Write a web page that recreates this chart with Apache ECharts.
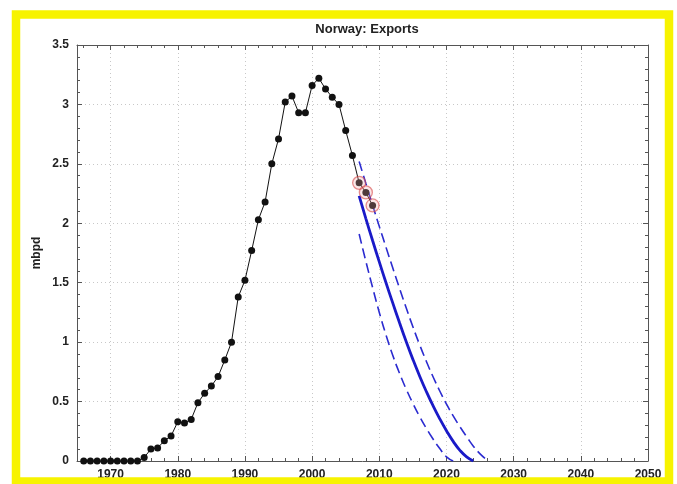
<!DOCTYPE html>
<html>
<head>
<meta charset="utf-8">
<script src="https://cdn.jsdelivr.net/npm/echarts@6/dist/echarts.min.js"></script>
<style>
  html, body { margin: 0; padding: 0; background: #fff; }
  #chart { width: 677px; height: 484px; }
</style>
</head>
<body>
<div id="chart"></div>
<script>
// Historical net exports (million barrels per day)
const histYears = [1966,1967,1968,1969,1970,1971,1972,1973,1974,1975,1976,1977,1978,1979,
  1980,1981,1982,1983,1984,1985,1986,1987,1988,1989,1990,1991,1992,1993,1994,1995,
  1996,1997,1998,1999,2000,2001,2002,2003,2004,2005,2006,2007,2008,2009];
const histValues = [0,0,0,0,0,0,0,0,0,0.03,0.10,0.11,0.17,0.21,
  0.33,0.32,0.35,0.49,0.57,0.63,0.71,0.85,1.00,1.38,1.52,1.77,2.03,2.18,2.50,2.71,
  3.02,3.07,2.93,2.93,3.16,3.22,3.13,3.06,3.00,2.78,2.57,2.34,2.26,2.15];

// Years used to fit the projection (highlighted)
const fitYears = [2007, 2008, 2009];

// Projection: central estimate and bounds
const projYears = [2007,2008,2009,2010,2011,2012,2013,2014,2015,2016,2017,2018,2019,2020,2021,2022,2023,2024];
const projMid = [2.23,2.04,1.855,1.675,1.50,1.33,1.165,1.005,0.855,0.715,0.585,0.465,0.355,0.255,0.165,0.09,0.035,0.0];

const upperYears = [2007,2008,2009,2010,2011,2012,2013,2014,2015,2016,2017,2018,2019,2020,2021,2022,2023,2024,2025,2026];
const projUpper = [2.52,2.335,2.153,1.974,1.798,1.625,1.455,1.289,1.129,0.979,0.839,0.709,0.589,0.479,0.379,0.289,0.205,0.125,0.06,0.01];

const lowerYears = [2007,2008,2009,2010,2011,2012,2013,2014,2015,2016,2017,2018,2019,2020,2021];
const projLower = [1.91,1.68,1.46,1.25,1.06,0.89,0.74,0.605,0.485,0.375,0.275,0.185,0.105,0.035,0.0];

const pairs = (xs, ys) => xs.map((x, i) => [x, ys[i]]);
const fitPoints = fitYears.map(y => [y, histValues[histYears.indexOf(y)]]);

const font = '"Liberation Sans", Arial, Helvetica, sans-serif';
const axisColor = '#555';

const chart = echarts.init(document.getElementById('chart'), null, { renderer: 'canvas' });

const xBase = {
  type: 'value', min: 1965, max: 2050, splitNumber: 8,
  axisLine: { show: true, onZero: false, lineStyle: { color: axisColor, width: 1 } },
  axisTick: { show: true, inside: true, length: 5, lineStyle: { color: axisColor } },
  minorTick: { show: true, splitNumber: 5, length: 3, lineStyle: { color: axisColor } }
};
const yBase = {
  type: 'value', min: 0, max: 3.5, interval: 0.5,
  axisLine: { show: true, onZero: false, lineStyle: { color: axisColor, width: 1 } },
  axisTick: { show: true, inside: true, length: 5, lineStyle: { color: axisColor } },
  minorTick: { show: true, splitNumber: 5, length: 3, lineStyle: { color: axisColor } }
};

const labelStyle = { fontFamily: font, fontSize: 12, fontWeight: 'bold', color: '#222' };

chart.setOption({
  backgroundColor: '#fff',
  animation: false,
  title: {
    text: 'Norway: Exports',
    left: 362, top: 18, textAlign: 'center',
    textStyle: { fontFamily: font, fontSize: 13, fontWeight: 'bold', color: '#222' }
  },
  grid: { left: 77, right: 29, top: 45, bottom: 23 },
  xAxis: [
    Object.assign({}, xBase, {
      position: 'bottom',
      axisLabel: Object.assign({ showMinLabel: false, margin: 8, formatter: v => String(v) }, labelStyle),
      splitLine: { show: true, lineStyle: { color: '#c8c8c8', type: [1, 3], width: 1 } }
    }),
    Object.assign({}, xBase, {
      position: 'top',
      axisLabel: { show: false },
      splitLine: { show: false }
    })
  ],
  yAxis: [
    Object.assign({}, yBase, {
      position: 'left',
      name: 'mbpd', nameLocation: 'middle', nameGap: 34, nameRotate: 90,
      nameMoveOverlap: false,
      nameTextStyle: labelStyle,
      axisLabel: Object.assign({ margin: 8 }, labelStyle),
      splitLine: { show: true, lineStyle: { color: '#c8c8c8', type: [1, 3], width: 1 } }
    }),
    Object.assign({}, yBase, {
      position: 'right',
      axisLabel: { show: false },
      splitLine: { show: false }
    })
  ],
  series: [
    {
      name: 'Lower bound', type: 'line', smooth: 0.5, symbol: 'none',
      data: pairs(lowerYears, projLower),
      lineStyle: { color: '#2b2bd0', width: 1.6, type: [10, 5] }, z: 3
    },
    {
      name: 'Upper bound', type: 'line', smooth: 0.5, symbol: 'none',
      data: pairs(upperYears, projUpper),
      lineStyle: { color: '#2b2bd0', width: 1.6, type: [10, 5] }, z: 3
    },
    {
      name: 'Projection', type: 'line', smooth: 0.5, symbol: 'none',
      data: pairs(projYears, projMid),
      lineStyle: { color: '#1a1ac8', width: 2.8 }, z: 4
    },
    {
      name: 'Exports', type: 'line', symbol: 'circle', symbolSize: 7,
      data: pairs(histYears, histValues),
      lineStyle: { color: '#111', width: 1 },
      itemStyle: { color: '#111' }, z: 5
    },
    {
      name: 'Fit points', type: 'scatter', symbol: 'circle', symbolSize: 13,
      data: fitPoints,
      itemStyle: { color: 'rgba(240,170,170,0.35)', borderColor: 'rgba(215,70,70,0.75)', borderWidth: 1.3 },
      z: 6
    }
  ],
  graphic: [
    {
      type: 'rect', silent: true, z: 100,
      shape: { x: 16, y: 14.5, width: 653, height: 467 },
      style: { fill: 'none', stroke: '#f7f300', lineWidth: 8.5 }
    }
  ]
});
</script>
</body>
</html>
